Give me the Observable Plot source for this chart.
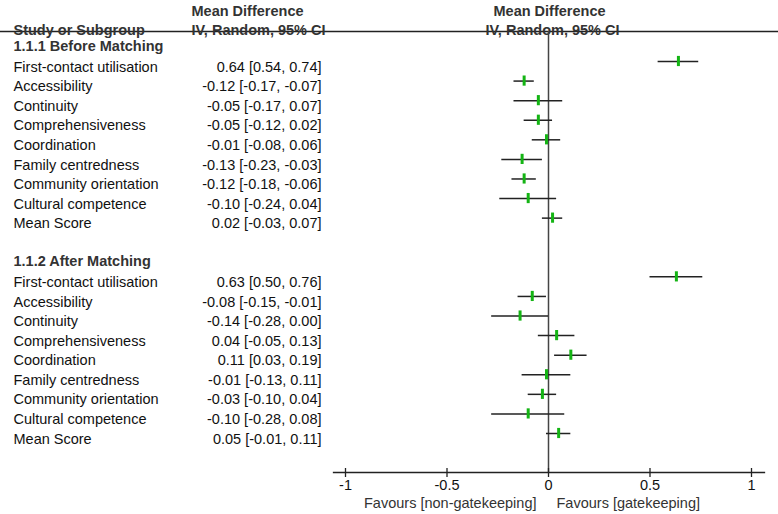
<!DOCTYPE html>
<html>
<head>
<meta charset="utf-8">
<script src="https://cdn.jsdelivr.net/npm/d3@7"></script>
<script src="https://cdn.jsdelivr.net/npm/@observablehq/plot@0.6"></script>
<style>
  html, body { margin: 0; padding: 0; background: #fff; }
  #chart svg { display: block; }
</style>
</head>
<body>
<div id="chart"></div>
<script>
// ---- data ----
const groups = ["1.1.1 Before Matching", "1.1.2 After Matching"];
const labels = ["First-contact utilisation", "Accessibility", "Continuity", "Comprehensiveness",
  "Coordination", "Family centredness", "Community orientation", "Cultural competence", "Mean Score"];
const beforeMean = [0.64, -0.12, -0.05, -0.05, -0.01, -0.13, -0.12, -0.10, 0.02];
const beforeLo   = [0.54, -0.17, -0.17, -0.12, -0.08, -0.23, -0.18, -0.24, -0.03];
const beforeHi   = [0.74, -0.07,  0.07,  0.02,  0.06, -0.03, -0.06,  0.04,  0.07];
const afterMean  = [0.63, -0.08, -0.14,  0.04,  0.11, -0.01, -0.03, -0.10,  0.05];
const afterLo    = [0.50, -0.15, -0.28, -0.05,  0.03, -0.13, -0.10, -0.28, -0.01];
const afterHi    = [0.76, -0.01,  0.00,  0.13,  0.19,  0.11,  0.04,  0.08,  0.11];
const xTicks = [-1, -0.5, 0, 0.5, 1];
const favoursLeft = "Favours [non-gatekeeping]";
const favoursRight = "Favours [gatekeeping]";

// ---- build rows ----
const headers = [];
const rows = [];
let r = 0;
[[beforeMean, beforeLo, beforeHi], [afterMean, afterLo, afterHi]].forEach(([m, lo, hi], g) => {
  headers.push({row: r, text: groups[g]});
  r++;
  labels.forEach((lab, i) => {
    rows.push({row: r, label: lab, mean: m[i], lo: lo[i], hi: hi[i],
      txt: `${m[i].toFixed(2)} [${lo[i].toFixed(2)}, ${hi[i].toFixed(2)}]`});
    r++;
  });
  r++; // blank row
});
const lastRow = rows[rows.length - 1].row;

const FONT = "Liberation Sans, Arial, Helvetica, sans-serif";
const FS = 14.5;
const green = "#14b414";
const markerDy = -5.5;

const chart = Plot.plot({
  width: 778,
  height: 514,
  marginTop: 31,
  marginBottom: 42,
  marginLeft: 0,
  marginRight: 0,
  style: {fontFamily: FONT, fontSize: FS + "px", background: "#fff"},
  x: {domain: [-1, 1], range: [345, 751], axis: null},
  y: {type: "linear", domain: [1, lastRow], range: [66.5, 438.5], axis: null},
  marks: [
    // header rule line
    Plot.frame({anchor: "top", stroke: "#222", strokeWidth: 1.3}),
    // column headers
    Plot.text(["Study or Subgroup"], {frameAnchor: "top-left", dx: 13, dy: -6.5, textAnchor: "start",
      fontWeight: "bold", fill: "#333", fontSize: FS}),
    Plot.text(["Mean Difference"], {frameAnchor: "top-left", dx: 247, dy: -26, textAnchor: "middle",
      fontWeight: "bold", fill: "#333", fontSize: FS}),
    Plot.text(["IV, Random, 95% CI"], {frameAnchor: "top-left", dx: 258, dy: -6.5, textAnchor: "middle",
      fontWeight: "bold", fill: "#333", fontSize: FS}),
    Plot.text(["Mean Difference"], {x: 0, frameAnchor: "top", dx: 1, dy: -26, textAnchor: "middle",
      fontWeight: "bold", fill: "#333", fontSize: FS}),
    Plot.text(["IV, Random, 95% CI"], {x: 0, frameAnchor: "top", dx: 4, dy: -6.5, textAnchor: "middle",
      fontWeight: "bold", fill: "#333", fontSize: FS}),
    // subgroup headers
    Plot.text(headers, {y: "row", text: "text", frameAnchor: "left", dx: 13, dy: -1, textAnchor: "start",
      fontWeight: "bold", fill: "#333", fontSize: FS}),
    // row labels and values
    Plot.text(rows, {y: "row", text: "label", frameAnchor: "left", dx: 13, textAnchor: "start",
      fill: "#111", fontSize: FS}),
    Plot.text(rows, {y: "row", text: "txt", frameAnchor: "left", dx: 321, textAnchor: "end",
      fill: "#111", fontSize: FS}),
    // zero line
    Plot.ruleX([0], {stroke: "#444", strokeWidth: 1.5}),
    // confidence intervals
    Plot.ruleY(rows, {y: "row", x1: "lo", x2: "hi", dy: markerDy, stroke: "#222", strokeWidth: 1.5}),
    // point estimates
    Plot.ruleX(rows, {x: "mean", y1: d => d.row - 0.26, y2: d => d.row + 0.26, dy: markerDy,
      stroke: green, strokeWidth: 3}),
    // x axis
    Plot.frame({anchor: "bottom", insetLeft: 333, insetRight: 14, stroke: "#222", strokeWidth: 1.3}),
    Plot.ruleX(xTicks, {x: d => d, insetTop: 437, insetBottom: -5, stroke: "#222", strokeWidth: 1.3}),
    Plot.text(xTicks, {x: d => d, text: d => String(d), frameAnchor: "bottom", dy: 17,
      fill: "#111", fontSize: FS}),
    Plot.text([favoursLeft], {x: 0, frameAnchor: "bottom", dx: -12, dy: 35, textAnchor: "end",
      fill: "#333", fontSize: FS}),
    Plot.text([favoursRight], {x: 0, frameAnchor: "bottom", dx: 8, dy: 35, textAnchor: "start",
      fill: "#333", fontSize: FS})
  ]
});
document.getElementById("chart").appendChild(chart);
</script>
</body>
</html>
